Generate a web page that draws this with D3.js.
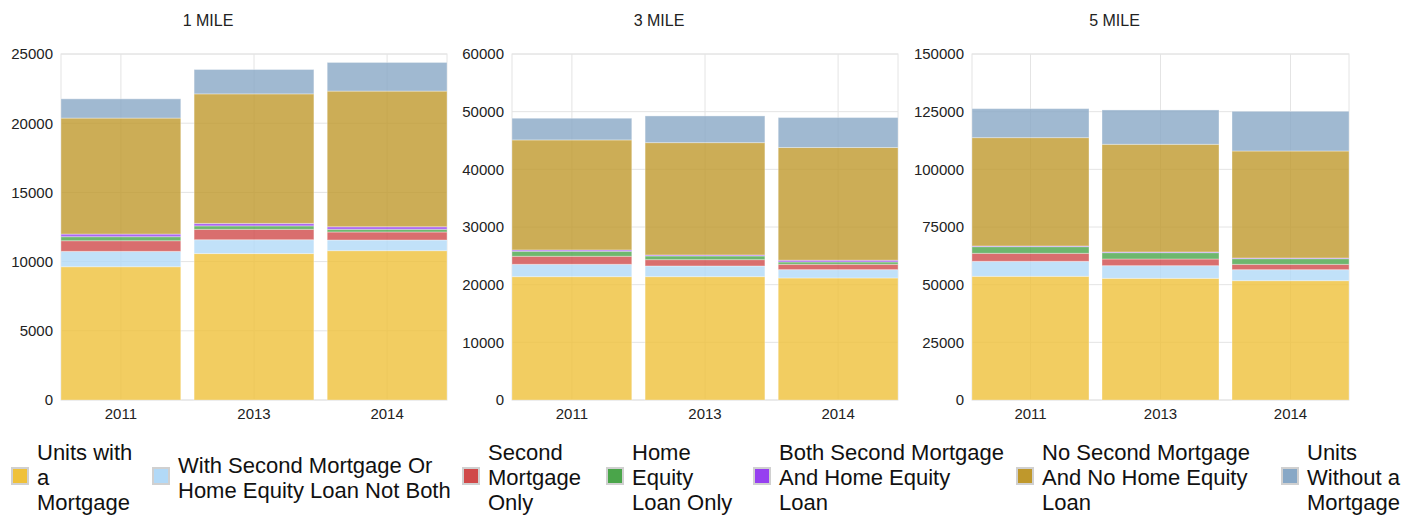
<!DOCTYPE html>
<html>
<head>
<meta charset="utf-8">
<script src="https://cdn.jsdelivr.net/npm/d3@7"></script>
<style>
  body { margin: 0; background: #fff; }
  svg { display: block; font-family: "Liberation Sans", Arial, sans-serif; }
</style>
</head>
<body>
<script>
// categories
const years = ["2011", "2013", "2014"];
const panelTitles = ["1 MILE", "3 MILE", "5 MILE"];
const yMaxes = [25000, 60000, 150000];
const yTicks = [
    [0, 5000, 10000, 15000, 20000, 25000],
    [0, 10000, 20000, 30000, 40000, 50000, 60000],
    [0, 25000, 50000, 75000, 100000, 125000, 150000]
];

// series values, one row per panel (1, 3, 5 mile), one value per year
const withMortgage    = [[9630, 10580, 10790], [21390, 21390, 21160], [53620, 52750, 51730]];
const secondOrEquity  = [[1110, 1000, 770],    [2140, 1850, 1450],    [6500, 5490, 4770]];
const secondOnly      = [[770, 750, 580],      [1390, 1100, 920],     [3470, 2890, 2310]];
const equityOnly      = [[290, 250, 190],      [870, 640, 410],       [2890, 2750, 2460]];
const bothLoans       = [[190, 180, 190],      [230, 170, 300],       [290, 290, 290]];
const noSecondNoEquity = [[8380, 9360, 9800],  [19080, 19480, 19540], [46970, 46680, 46390]];
const withoutMortgage = [[1390, 1760, 2070],   [3760, 4630, 5200],    [12570, 14890, 17200]];

const seriesData = [withMortgage, secondOrEquity, secondOnly, equityOnly, bothLoans, noSecondNoEquity, withoutMortgage];
const seriesLabels = [
    ["Units with", "a", "Mortgage"],
    ["With Second Mortgage Or", "Home Equity Loan Not Both"],
    ["Second", "Mortgage", "Only"],
    ["Home", "Equity", "Loan Only"],
    ["Both Second Mortgage", "And Home Equity", "Loan"],
    ["No Second Mortgage", "And No Home Equity", "Loan"],
    ["Units", "Without a", "Mortgage"]
];
const seriesColors = ["#efc13a", "#b2d9f7", "#d04a4a", "#4aa54a", "#9640f0", "#bf982c", "#88a8c6"];

// layout
const W = 1418, H = 517;
const plotTop = 54, plotBottom = 400;
const panelBoxes = [{ x: 61, w: 386 }, { x: 512, w: 386 }, { x: 972, w: 377 }];
const legendX = [11, 152, 462, 606, 753, 1016, 1281];
const gridColor = "#e4e4e4";

const svg = d3.select("body").append("svg")
    .attr("width", W)
    .attr("height", H);

const keys = seriesData.map((s, i) => "s" + i);

panelTitles.forEach((title, p) => {
    const box = panelBoxes[p];
    const g = svg.append("g");

    const x = d3.scaleBand()
        .domain(years)
        .range([box.x, box.x + box.w])
        .paddingInner(0.1)
        .paddingOuter(0);

    const y = d3.scaleLinear()
        .domain([0, yMaxes[p]])
        .range([plotBottom, plotTop]);

    // gridlines
    g.selectAll(".hgrid")
        .data(yTicks[p])
        .enter().append("line")
        .attr("x1", box.x).attr("x2", box.x + box.w)
        .attr("y1", d => y(d)).attr("y2", d => y(d))
        .attr("stroke", gridColor);

    g.selectAll(".vgrid")
        .data(years)
        .enter().append("line")
        .attr("x1", d => x(d) + x.bandwidth() / 2)
        .attr("x2", d => x(d) + x.bandwidth() / 2)
        .attr("y1", plotTop).attr("y2", plotBottom)
        .attr("stroke", gridColor);

    g.append("rect")
        .attr("x", box.x).attr("y", plotTop)
        .attr("width", box.w).attr("height", plotBottom - plotTop)
        .attr("fill", "none")
        .attr("stroke", gridColor);

    // stacked bars
    const rows = years.map((yr, j) => {
        const row = { year: yr };
        seriesData.forEach((s, i) => { row["s" + i] = s[p][j]; });
        return row;
    });
    const stacked = d3.stack().keys(keys)(rows);

    stacked.forEach((layer, i) => {
        g.selectAll(".bar-" + i)
            .data(layer)
            .enter().append("rect")
            .attr("x", d => x(d.data.year))
            .attr("width", x.bandwidth())
            .attr("y", d => y(d[1]))
            .attr("height", d => y(d[0]) - y(d[1]))
            .attr("fill", seriesColors[i])
            .attr("fill-opacity", 0.8)
            .attr("stroke", "#fff")
            .attr("stroke-opacity", 0.35)
            .attr("stroke-width", 1);
    });

    // axes
    const yAxis = g.append("g")
        .attr("transform", `translate(${box.x},0)`)
        .call(d3.axisLeft(y).tickValues(yTicks[p]).tickFormat(d3.format("d")).tickSize(0).tickPadding(8));
    yAxis.select(".domain").remove();
    yAxis.selectAll("text").style("font-size", "15px").attr("fill", "#222");

    const xAxis = g.append("g")
        .attr("transform", `translate(0,${plotBottom})`)
        .call(d3.axisBottom(x).tickSize(0).tickPadding(8));
    xAxis.select(".domain").remove();
    xAxis.selectAll("text").style("font-size", "15px").attr("fill", "#222");

    // title
    g.append("text")
        .attr("x", box.x + box.w / 2 - 46)
        .attr("y", 25.5)
        .attr("text-anchor", "middle")
        .style("font-size", "16px")
        .attr("fill", "#222")
        .text(title);
});

// legend
const legend = svg.append("g");
seriesLabels.forEach((lines, i) => {
    const lx = legendX[i];
    legend.append("rect")
        .attr("x", lx + 1).attr("y", 468)
        .attr("width", 16).attr("height", 16)
        .attr("fill", seriesColors[i])
        .attr("stroke", "#d0d0d0")
        .attr("stroke-width", 2);

    const t = legend.append("text")
        .attr("x", lx + 26)
        .style("font-size", "22px")
        .attr("fill", "#111");
    lines.forEach((line, k) => {
        t.append("tspan")
            .attr("x", lx + 26)
            .attr("y", 485 + (k - (lines.length - 1) / 2) * 25)
            .text(line);
    });
});
</script>
</body>
</html>
